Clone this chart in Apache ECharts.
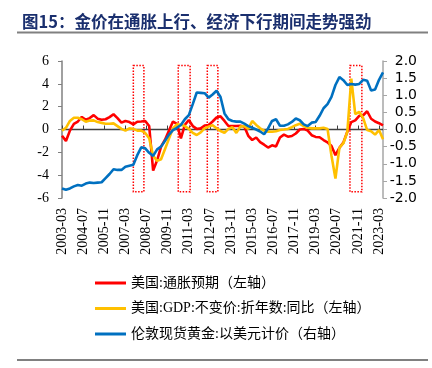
<!DOCTYPE html>
<html>
<head>
<meta charset="utf-8">
<script src="https://cdn.jsdelivr.net/npm/echarts@6/dist/echarts.min.js"></script>
<style>
html,body{margin:0;padding:0;background:#fff;}
#c{width:432px;height:368px;}
</style>
</head>
<body>
<div id="c"></div>
<script>
// Monthly category axis 2003-03 .. 2023-06
const startYear = 2003, startMonth = 3, monthCount = 244;
const months = [];
for (let i = 0; i < monthCount; i++) {
  const t = startMonth - 1 + i;
  const y = startYear + Math.floor(t / 12);
  const m = (t % 12) + 1;
  months.push(y + '-' + String(m).padStart(2, '0'));
}
// Quarterly readings (every 3rd month starting 2003-03)
const inflationExp = [
  -0.55,-1.0,-0.1,0.5,0.7,1.1,0.85,1.0,
  1.26,0.95,0.85,0.9,1.08,1.33,1.0,0.6,
  0.75,0.65,0.45,0.68,0.7,0.75,0.3,-3.6,
  -2.7,-1.5,-0.9,-0.1,0.7,0.5,-0.77,0.4,
  0.83,0.3,0.05,0.1,0.35,0.39,0.7,1.05,
  1.15,0.75,0.31,0.3,0.31,0.33,0.26,-0.55,
  -0.92,-0.7,-1.1,-1.33,-1.58,-1.38,-1.48,-0.7,
  -0.45,-0.63,-0.57,-0.35,0.0,0.05,-0.1,-0.5,
  -0.65,-0.68,-0.92,-1.12,-1.45,-2.25,-1.6,-1.15,
  -0.2,0.65,0.8,1.2,1.25,1.6,0.94,0.7,
  0.55,0.36
];
const gdpYoY = [
  -0.1,0.15,0.75,1.03,1.03,0.9,0.68,0.78,
  0.8,0.65,0.58,0.5,0.5,0.54,0.3,0.05,
  -0.1,0.1,0.05,-0.1,-0.1,-0.3,-0.77,-2.3,
  -2.75,-2.6,-1.7,-0.8,0.1,0.45,0.42,0.3,
  0.05,-0.3,-0.48,-0.25,0.1,0.25,0.38,0.1,
  -0.13,-0.28,0.05,0.2,-0.3,0.25,0.3,0.05,
  0.74,0.4,0.1,-0.1,-0.19,-0.2,-0.15,-0.04,
  0.0,0.05,0.2,0.38,0.5,0.3,0.15,0.1,
  0.1,0.1,0.15,0.05,-2.3,-4.3,-1.6,-1.2,
  -0.2,4.45,1.35,1.55,1.0,-0.05,-0.15,-0.45,
  -0.05,-0.85
];
const goldPrice = [
  -1.72,-1.76,-1.72,-1.66,-1.62,-1.64,-1.58,-1.55,
  -1.56,-1.55,-1.54,-1.42,-1.3,-1.16,-1.18,-1.18,
  -1.09,-1.06,-1.03,-0.75,-0.52,-0.55,-0.68,-0.77,
  -0.58,-0.5,-0.33,-0.15,-0.02,0.05,0.13,0.3,
  0.42,0.74,1.08,1.07,1.06,0.93,1.02,1.13,
  0.95,0.47,0.3,0.25,0.23,0.23,0.17,0.1,
  0.05,0.0,-0.06,-0.14,0.03,0.25,0.3,0.11,
  0.11,0.15,0.22,0.32,0.27,0.15,0.1,0.2,
  0.22,0.4,0.62,0.74,0.95,1.3,1.53,1.44,
  1.3,1.33,1.31,1.33,1.45,1.42,1.14,1.17,
  1.45,1.67
];
const shadeStart = ['2007-09','2010-07','2012-05','2021-05'];
const shadeEnd   = ['2008-05','2011-04','2013-01','2022-02'];
const shadeTop = 5.6, shadeBottom = -5.45;

const names = ['美国:通胀预期（左轴）','美国:GDP:不变价:折年数:同比（左轴）','伦敦现货黄金:以美元计价（右轴）'];
const toPairs = arr => arr.map((v, k) => [months[3 * k], v]);

const chart = echarts.init(document.getElementById('c'), null, {renderer: 'canvas'});
chart.setOption({
  animation: false,
  backgroundColor: '#fff',
  title: {
    text: '图15：金价在通胀上行、经济下行期间走势强劲',
    left: 17, top: 8,
    textStyle: {fontSize: 16.5, fontWeight: 'bold', color: '#1A2F6E', fontFamily: "'Noto Sans CJK SC'"}
  },
  graphic: [
    {type: 'rect', shape: {x: 17, y: 31.5, width: 411, height: 2}, style: {fill: '#808080'}},
    {type: 'rect', shape: {x: 17, y: 359, width: 411, height: 2}, style: {fill: '#808080'}}
  ],
  legend: {
    data: names.map(n => ({name: n, icon: 'rect'})),
    orient: 'vertical', left: 90, top: 271,
    itemWidth: 31, itemHeight: 3, itemGap: 11.5,
    textStyle: {fontSize: 14, lineHeight: 14, color: '#000', fontFamily: "'Liberation Serif','Noto Sans CJK SC'"}
  },
  grid: {left: 62, right: 49, top: 61, bottom: 170},
  xAxis: [
    {
      type: 'category', data: months, boundaryGap: false,
      axisLine: {onZero: true, lineStyle: {color: '#404040', width: 1.3}},
      axisTick: {show: true, inside: true, interval: 15, length: 4, lineStyle: {color: '#404040'}},
      axisLabel: {show: false}, splitLine: {show: false}
    },
    {
      type: 'category', data: months, boundaryGap: false, position: 'bottom',
      axisLine: {show: false, onZero: false}, axisTick: {show: false},
      axisLabel: {interval: 15, rotate: 90, fontSize: 14, color: '#000', fontFamily: "'Liberation Serif'", margin: 10},
      splitLine: {show: false}
    }
  ],
  yAxis: [
    {
      type: 'value', min: -6, max: 6, interval: 2,
      axisLine: {show: true, lineStyle: {color: '#808080', width: 1.5}},
      axisTick: {show: true, length: 4, lineStyle: {color: '#808080'}},
      axisLabel: {fontSize: 14, color: '#000', fontFamily: "'Liberation Serif'", margin: 13},
      splitLine: {show: false}
    },
    {
      type: 'value', position: 'right', min: -2, max: 2, interval: 0.5,
      axisLine: {show: true, lineStyle: {color: '#A6A6A6', width: 1.5}},
      axisTick: {show: true, length: 4, lineStyle: {color: '#A6A6A6'}},
      axisLabel: {fontSize: 14, color: '#000', fontFamily: "'DejaVu Sans'", margin: 34, align: 'right',
        formatter: v => v.toFixed(1)},
      splitLine: {show: false}
    }
  ],
  series: [
    {
      name: names[0], type: 'line', xAxisIndex: 0, yAxisIndex: 0,
      data: toPairs(inflationExp), showSymbol: false, symbol: 'none',
      lineStyle: {color: '#FF0000', width: 2.6}, itemStyle: {color: '#FF0000'},
      markArea: {
        silent: true,
        itemStyle: {color: 'rgba(0,0,0,0)', borderColor: '#FF0000', borderWidth: 1.5, borderType: 'dotted'},
        data: shadeStart.map((s, i) => [{xAxis: s, yAxis: shadeTop}, {xAxis: shadeEnd[i], yAxis: shadeBottom}])
      }
    },
    {
      name: names[1], type: 'line', xAxisIndex: 0, yAxisIndex: 0,
      data: toPairs(gdpYoY), showSymbol: false, symbol: 'none',
      lineStyle: {color: '#FFC000', width: 2.6}, itemStyle: {color: '#FFC000'}
    },
    {
      name: names[2], type: 'line', xAxisIndex: 0, yAxisIndex: 1,
      data: toPairs(goldPrice), showSymbol: false, symbol: 'none',
      lineStyle: {color: '#0070C0', width: 2.6}, itemStyle: {color: '#0070C0'}
    }
  ]
});
</script>
</body>
</html>
